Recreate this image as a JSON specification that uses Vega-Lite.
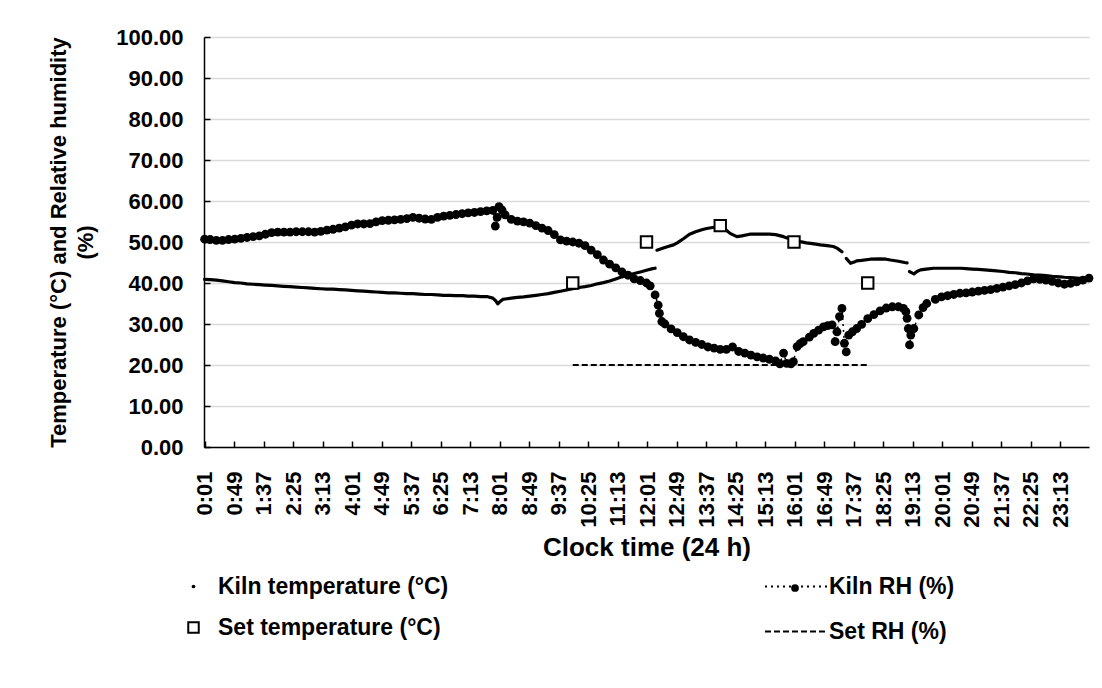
{
  "$schema": "https://vega.github.io/schema/vega-lite/v6.json",
  "width": 885,
  "height": 410,
  "autosize": "none",
  "padding": {"left": 204, "top": 37, "right": 13, "bottom": 241},
  "background": "white",
  "config": {
    "font": "Liberation Sans",
    "view": {"stroke": null},
    "axis": {
      "labelFont": "Liberation Sans", "labelFontWeight": "bold", "labelFontSize": 22, "labelColor": "black",
      "titleFont": "Liberation Sans", "titleFontWeight": "bold", "titleFontSize": 22, "titleColor": "black",
      "domainColor": "black", "domainWidth": 1.5, "tickColor": "black", "tickWidth": 1.5, "tickSize": -6
    },
    "legend": {
      "labelFont": "Liberation Sans", "labelFontWeight": "bold", "labelFontSize": 23, "labelColor": "black", "labelLimit": 0
    }
  },
  "datasets": {
    "rh": [
      {"m":1,"v":50.7},{"m":10,"v":50.6},{"m":20,"v":50.4},{"m":30,"v":50.4},{"m":40,"v":50.6},{"m":50,"v":50.7},{"m":60,"v":50.9},{"m":70,"v":51.1},{"m":80,"v":51.3},{"m":90,"v":51.5},
      {"m":100,"v":51.9},{"m":110,"v":52.3},{"m":120,"v":52.4},{"m":130,"v":52.4},{"m":140,"v":52.4},{"m":150,"v":52.5},{"m":160,"v":52.5},{"m":170,"v":52.5},{"m":180,"v":52.4},{"m":190,"v":52.6},
      {"m":200,"v":52.9},{"m":210,"v":53.1},{"m":220,"v":53.4},{"m":230,"v":53.7},{"m":240,"v":54.1},{"m":250,"v":54.4},{"m":260,"v":54.4},{"m":270,"v":54.5},{"m":280,"v":54.9},{"m":290,"v":55.2},
      {"m":300,"v":55.3},{"m":310,"v":55.4},{"m":320,"v":55.5},{"m":330,"v":55.7},{"m":340,"v":56.0},{"m":350,"v":55.8},{"m":360,"v":55.6},{"m":370,"v":55.5},{"m":380,"v":56.0},{"m":390,"v":56.3},
      {"m":400,"v":56.5},{"m":410,"v":56.7},{"m":420,"v":56.9},{"m":430,"v":57.1},{"m":440,"v":57.2},{"m":450,"v":57.4},{"m":460,"v":57.6},{"m":470,"v":57.7},{"m":474,"v":53.9},{"m":477,"v":56.0},
      {"m":480,"v":58.6},{"m":485,"v":57.8},{"m":490,"v":56.6},{"m":500,"v":55.5},{"m":510,"v":55.1},{"m":520,"v":54.9},{"m":530,"v":54.6},{"m":540,"v":54.0},{"m":550,"v":53.4},{"m":560,"v":52.8},
      {"m":570,"v":51.8},{"m":580,"v":50.5},{"m":590,"v":50.2},{"m":600,"v":50.0},{"m":610,"v":49.7},{"m":620,"v":49.1},{"m":630,"v":48.0},{"m":640,"v":46.9},{"m":650,"v":45.6},{"m":660,"v":44.6},
      {"m":670,"v":43.7},{"m":680,"v":42.7},{"m":690,"v":41.9},{"m":700,"v":41.0},{"m":710,"v":40.6},{"m":720,"v":40.0},{"m":726,"v":39.3},{"m":734,"v":37.1},{"m":739,"v":34.6},{"m":741,"v":32.6},
      {"m":745,"v":30.6},{"m":750,"v":30.0},{"m":760,"v":28.8},{"m":770,"v":27.9},{"m":780,"v":26.9},{"m":790,"v":26.1},{"m":800,"v":25.5},{"m":810,"v":25.0},{"m":820,"v":24.4},{"m":830,"v":24.1},
      {"m":840,"v":23.8},{"m":850,"v":23.8},{"m":860,"v":24.4},{"m":870,"v":23.3},{"m":880,"v":22.9},{"m":890,"v":22.4},{"m":900,"v":22.0},{"m":910,"v":21.7},{"m":920,"v":21.4},{"m":930,"v":21.0},
      {"m":937,"v":20.3},{"m":943,"v":22.9},{"m":948,"v":20.4},{"m":955,"v":20.3},{"m":959,"v":20.8},{"m":965,"v":24.5},{"m":970,"v":25.2},{"m":975,"v":25.7},{"m":985,"v":26.8},{"m":992,"v":27.7},
      {"m":1000,"v":28.5},{"m":1008,"v":29.3},{"m":1015,"v":29.6},{"m":1022,"v":29.8},{"m":1027,"v":25.7},{"m":1030,"v":28.1},{"m":1034,"v":31.8},{"m":1038,"v":33.8},{"m":1042,"v":25.3},{"m":1045,"v":23.2},
      {"m":1049,"v":27.3},{"m":1055,"v":28.1},{"m":1062,"v":28.9},{"m":1070,"v":29.9},{"m":1080,"v":31.3},{"m":1090,"v":32.3},{"m":1100,"v":33.2},{"m":1110,"v":33.9},{"m":1120,"v":34.2},{"m":1130,"v":34.2},
      {"m":1138,"v":33.8},{"m":1142,"v":33.0},{"m":1144,"v":31.4},{"m":1146,"v":28.9},{"m":1148,"v":24.9},{"m":1150,"v":27.3},{"m":1155,"v":28.9},{"m":1163,"v":32.2},{"m":1170,"v":34.0},{"m":1176,"v":35.0},
      {"m":1190,"v":36.0},{"m":1200,"v":36.6},{"m":1210,"v":36.9},{"m":1220,"v":37.2},{"m":1230,"v":37.5},{"m":1240,"v":37.6},{"m":1250,"v":37.8},{"m":1260,"v":38.0},{"m":1270,"v":38.2},{"m":1280,"v":38.4},
      {"m":1290,"v":38.7},{"m":1300,"v":39.0},{"m":1310,"v":39.3},{"m":1320,"v":39.6},{"m":1330,"v":40.0},{"m":1340,"v":40.5},{"m":1350,"v":41.0},{"m":1360,"v":40.9},{"m":1370,"v":40.7},{"m":1380,"v":40.4},
      {"m":1390,"v":40.0},{"m":1400,"v":39.7},{"m":1410,"v":39.9},{"m":1420,"v":40.3},{"m":1430,"v":40.7},{"m":1440,"v":41.2}
    ],
    "temp": [
      {"m":1,"v":40.9,"seg":0},{"m":10,"v":40.8,"seg":0},{"m":20,"v":40.7,"seg":0},{"m":30,"v":40.5,"seg":0},{"m":40,"v":40.3,"seg":0},{"m":50,"v":40.1,"seg":0},{"m":60,"v":40.0,"seg":0},{"m":70,"v":39.8,"seg":0},
      {"m":80,"v":39.7,"seg":0},{"m":90,"v":39.6,"seg":0},{"m":100,"v":39.5,"seg":0},{"m":110,"v":39.4,"seg":0},{"m":120,"v":39.3,"seg":0},{"m":130,"v":39.2,"seg":0},{"m":140,"v":39.1,"seg":0},{"m":150,"v":39.0,"seg":0},
      {"m":160,"v":38.9,"seg":0},{"m":170,"v":38.8,"seg":0},{"m":180,"v":38.7,"seg":0},{"m":190,"v":38.6,"seg":0},{"m":200,"v":38.5,"seg":0},{"m":210,"v":38.5,"seg":0},{"m":220,"v":38.4,"seg":0},{"m":230,"v":38.3,"seg":0},
      {"m":240,"v":38.2,"seg":0},{"m":250,"v":38.1,"seg":0},{"m":260,"v":38.0,"seg":0},{"m":270,"v":37.9,"seg":0},{"m":280,"v":37.8,"seg":0},{"m":290,"v":37.7,"seg":0},{"m":300,"v":37.6,"seg":0},{"m":310,"v":37.6,"seg":0},
      {"m":320,"v":37.5,"seg":0},{"m":330,"v":37.4,"seg":0},{"m":340,"v":37.4,"seg":0},{"m":350,"v":37.3,"seg":0},{"m":360,"v":37.2,"seg":0},{"m":370,"v":37.2,"seg":0},{"m":380,"v":37.1,"seg":0},{"m":390,"v":37.0,"seg":0},
      {"m":400,"v":37.0,"seg":0},{"m":410,"v":36.9,"seg":0},{"m":420,"v":36.9,"seg":0},{"m":430,"v":36.8,"seg":0},{"m":440,"v":36.8,"seg":0},{"m":450,"v":36.7,"seg":0},{"m":460,"v":36.7,"seg":0},{"m":470,"v":36.3,"seg":0},
      {"m":475,"v":35.6,"seg":0},{"m":478,"v":34.9,"seg":0},{"m":482,"v":35.5,"seg":0},{"m":486,"v":36.0,"seg":0},{"m":490,"v":36.1,"seg":0},{"m":500,"v":36.3,"seg":0},{"m":510,"v":36.5,"seg":0},{"m":520,"v":36.6,"seg":0},
      {"m":530,"v":36.8,"seg":0},{"m":540,"v":37.0,"seg":0},{"m":550,"v":37.2,"seg":0},{"m":560,"v":37.4,"seg":0},{"m":570,"v":37.7,"seg":0},{"m":580,"v":38.0,"seg":0},{"m":590,"v":38.3,"seg":0},{"m":600,"v":38.6,"seg":0},
      {"m":610,"v":38.9,"seg":0},{"m":620,"v":39.1,"seg":0},{"m":630,"v":39.4,"seg":0},{"m":640,"v":39.8,"seg":0},{"m":650,"v":40.1,"seg":0},{"m":660,"v":40.5,"seg":0},{"m":670,"v":41.0,"seg":0},{"m":680,"v":41.5,"seg":0},
      {"m":690,"v":41.9,"seg":0},{"m":700,"v":42.3,"seg":0},{"m":710,"v":42.7,"seg":0},{"m":720,"v":43.1,"seg":0},{"m":730,"v":43.5,"seg":0},{"m":734,"v":43.6,"seg":0},
      {"m":737,"v":48.0,"seg":1},{"m":745,"v":48.4,"seg":1},{"m":755,"v":48.9,"seg":1},{"m":764,"v":49.3,"seg":1},{"m":770,"v":49.8,"seg":1},{"m":780,"v":50.8,"seg":1},{"m":790,"v":51.9,"seg":1},{"m":800,"v":52.5,"seg":1},
      {"m":810,"v":53.0,"seg":1},{"m":818,"v":53.3,"seg":1},{"m":830,"v":53.6,"seg":1},{"m":840,"v":53.8,"seg":1},{"m":848,"v":53.1,"seg":1},{"m":856,"v":52.1,"seg":1},{"m":867,"v":51.3,"seg":1},{"m":875,"v":51.5,"seg":1},
      {"m":888,"v":51.9,"seg":1},{"m":900,"v":51.9,"seg":1},{"m":910,"v":51.9,"seg":1},{"m":920,"v":51.9,"seg":1},{"m":930,"v":51.8,"seg":1},{"m":943,"v":51.3,"seg":1},{"m":950,"v":50.9,"seg":1},{"m":960,"v":50.5,"seg":1},
      {"m":970,"v":50.1,"seg":1},{"m":980,"v":49.8,"seg":1},{"m":990,"v":49.6,"seg":1},{"m":1003,"v":49.3,"seg":1},{"m":1014,"v":49.1,"seg":1},{"m":1024,"v":48.9,"seg":1},{"m":1030,"v":48.5,"seg":1},{"m":1038,"v":47.6,"seg":1},
      {"m":1045,"v":46.0,"seg":2},{"m":1052,"v":44.8,"seg":2},{"m":1058,"v":45.1,"seg":2},{"m":1062,"v":45.4,"seg":2},{"m":1070,"v":45.5,"seg":2},{"m":1084,"v":45.8,"seg":2},{"m":1100,"v":45.9,"seg":2},{"m":1110,"v":45.8,"seg":2},
      {"m":1117,"v":45.6,"seg":2},{"m":1130,"v":45.3,"seg":2},{"m":1140,"v":45.0,"seg":2},{"m":1144,"v":44.9,"seg":2},
      {"m":1148,"v":42.8,"seg":3},{"m":1155,"v":42.2,"seg":3},{"m":1160,"v":42.8,"seg":3},{"m":1166,"v":43.2,"seg":3},{"m":1175,"v":43.4,"seg":3},{"m":1187,"v":43.6,"seg":3},{"m":1200,"v":43.6,"seg":3},{"m":1210,"v":43.6,"seg":3},
      {"m":1220,"v":43.6,"seg":3},{"m":1231,"v":43.6,"seg":3},{"m":1240,"v":43.5,"seg":3},{"m":1250,"v":43.4,"seg":3},{"m":1260,"v":43.3,"seg":3},{"m":1270,"v":43.2,"seg":3},{"m":1285,"v":43.0,"seg":3},{"m":1300,"v":42.8,"seg":3},
      {"m":1310,"v":42.6,"seg":3},{"m":1320,"v":42.5,"seg":3},{"m":1330,"v":42.3,"seg":3},{"m":1339,"v":42.2,"seg":3},{"m":1350,"v":42.0,"seg":3},{"m":1360,"v":41.9,"seg":3},{"m":1370,"v":41.8,"seg":3},{"m":1380,"v":41.6,"seg":3},
      {"m":1393,"v":41.5,"seg":3},{"m":1400,"v":41.4,"seg":3},{"m":1410,"v":41.3,"seg":3},{"m":1420,"v":41.2,"seg":3},{"m":1430,"v":41.1,"seg":3},{"m":1440,"v":41.1,"seg":3}
    ],
    "setT": [
      {"m":600,"v":40},{"m":720,"v":50},{"m":840,"v":54},{"m":960,"v":50},{"m":1080,"v":40}
    ],
    "setRH": [
      {"m":600,"v":20},{"m":720,"v":20},{"m":840,"v":20},{"m":960,"v":20},{"m":1080,"v":20}
    ]
  },
  "encoding": {
    "x": {
      "field": "m", "type": "quantitative",
      "scale": {"domain": [0, 1440], "nice": false, "zero": false},
      "axis": {
        "title": "Clock time (24 h)", "titleFontSize": 26,
        "values": [1,49,97,145,193,241,289,337,385,433,481,529,577,625,673,721,769,817,865,913,961,1009,1057,1105,1153,1201,1249,1297,1345,1393],
        "labelExpr": "floor(datum.value/60) + ':' + (datum.value % 60 < 10 ? '0' : '') + (datum.value % 60)",
        "labelAngle": 270, "labelPadding": 30, "labelOverlap": false, "labelFlush": false,
        "grid": false, "titlePadding": 7
      }
    },
    "y": {
      "field": "v", "type": "quantitative",
      "scale": {"domain": [0, 100], "nice": false},
      "axis": {
        "title": ["Temperature (°C) and Relative humidity", "(%)"],
        "values": [0,10,20,30,40,50,60,70,80,90,100],
        "format": ".2f", "grid": true, "gridColor": "#d9d9d9", "gridWidth": 1.5,
        "labelPadding": 27, "titlePadding": 18, "titleLineHeight": 27
      }
    }
  },
  "layer": [
    {
      "data": {"name": "setRH"},
      "mark": {"type": "line", "color": "black", "strokeWidth": 2},
      "encoding": {
        "strokeDash": {
          "datum": "Set RH (%)",
          "scale": {"domain": ["Kiln RH (%)", "Set RH (%)"], "range": [[2, 4], [6, 3]]},
          "legend": {
            "orient": "none", "legendX": 560, "legendY": 517, "direction": "vertical", "title": null,
            "symbolSize": 3969, "symbolStrokeWidth": 2, "symbolStrokeColor": "black", "labelOffset": 0, "rowPadding": -30, "padding": 0
          }
        }
      }
    },
    {
      "data": {"name": "rh"},
      "mark": {"type": "line", "color": "black", "strokeWidth": 1.5},
      "encoding": {"strokeDash": {"datum": "Kiln RH (%)"}}
    },
    {
      "data": {"name": "rh"},
      "mark": {"type": "point", "filled": true, "color": "black", "size": 78, "opacity": 1},
      "encoding": {
        "shape": {
          "datum": "Kiln RH (%)",
          "scale": {"domain": ["Kiln RH (%)"], "range": ["circle"]},
          "legend": {
            "orient": "none", "legendX": 586, "legendY": 546, "title": null, "labelExpr": "''",
            "labelFontSize": 1, "symbolSize": 60, "symbolFillColor": "black", "symbolStrokeColor": "black", "symbolOpacity": 1, "padding": 0
          }
        }
      }
    },
    {
      "data": {"name": "temp"},
      "mark": {"type": "line", "strokeWidth": 3.2, "strokeCap": "round", "strokeJoin": "round"},
      "encoding": {
        "detail": {"field": "seg", "type": "nominal"},
        "color": {
          "datum": "Kiln temperature (°C)",
          "scale": {"domain": ["Kiln temperature (°C)", "Set temperature (°C)"], "range": ["black", "black"]},
          "legend": {
            "orient": "none", "legendX": -22, "legendY": 538, "direction": "vertical", "title": null,
            "symbolSize": 100, "labelOffset": 13, "rowPadding": 17, "padding": 0,
            "encode": {
              "symbols": {
                "update": {
                  "shape": {"signal": "datum.value === 'Set temperature (°C)' ? 'square' : 'circle'"},
                  "size": {"signal": "datum.value === 'Set temperature (°C)' ? 110 : 14"},
                  "fill": {"signal": "datum.value === 'Set temperature (°C)' ? 'white' : 'black'"},
                  "fillOpacity": {"value": 1},
                  "opacity": {"value": 1},
                  "stroke": {"value": "black"},
                  "strokeWidth": {"signal": "datum.value === 'Set temperature (°C)' ? 2 : 0"}
                }
              }
            }
          }
        }
      }
    },
    {
      "data": {"name": "setT"},
      "mark": {"type": "point", "shape": "square", "filled": false, "fill": "white", "fillOpacity": 1, "size": 130, "strokeWidth": 2, "opacity": 1},
      "encoding": {"color": {"datum": "Set temperature (°C)"}}
    }
  ]
}
